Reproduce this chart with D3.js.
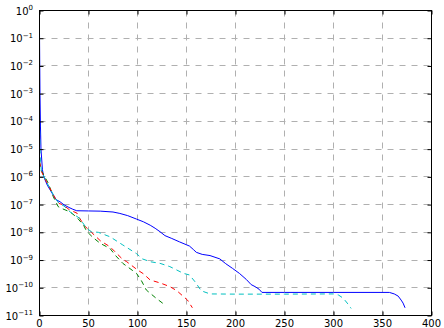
<!DOCTYPE html>
<html>
<head>
<meta charset="utf-8">
<script src="https://cdn.jsdelivr.net/npm/d3@7"></script>
<style>
  html, body { margin: 0; padding: 0; background: #fff; }
  svg { display: block; }
  text { font-family: "DejaVu Sans", sans-serif; fill: #000; }
</style>
</head>
<body>
<svg id="chart" width="444" height="328"></svg>
<script>
// Residual histories (log scale) for four runs
const blueX = [0,0.5,1,1.5,3,4.4,8,14,17,21,25,30,34,38,50,62,75,82,90,99,106,113,118,123,128,135,143,153,157,160,166,174,184,190,197,204,211,216,220,224,227,250,300,357,362,366,369,371,373];
const blueY = [0.158,1e-3,6.3e-5,1e-5,1.8e-6,1e-6,5e-7,2.2e-7,1.5e-7,1.26e-7,9.8e-8,7.9e-8,6.8e-8,6.0e-8,5.9e-8,5.8e-8,5.4e-8,4.8e-8,4.0e-8,3.0e-8,2.4e-8,1.8e-8,1.4e-8,1.05e-8,7.6e-9,6.0e-9,4.5e-9,3.2e-9,2.4e-9,1.9e-9,1.6e-9,1.45e-9,1.1e-9,7.4e-10,5.0e-10,3.3e-10,2.0e-10,1.3e-10,1.1e-10,8.9e-11,6.8e-11,6.8e-11,6.8e-11,6.8e-11,6.0e-11,5.0e-11,3.6e-11,2.8e-11,1.9e-11];

const greenX = [0,2,9,14,19,22,31,38,45,48,55,62,72,78,85,99,104,109,119,128];
const greenY = [3.5e-6,1.66e-6,5.9e-7,1.95e-7,8.5e-8,7.4e-8,5.5e-8,3.5e-8,1.8e-8,1.1e-8,6.3e-9,4.0e-9,2.6e-9,1.4e-9,7.6e-10,3.3e-10,1.8e-10,8.3e-11,4.2e-11,2.4e-11];

const redX = [0,2,7,16,20,24,31,38,41,46,53,62,72,79,85,89,100,106,113,123,133,140,151,156];
const redY = [3.5e-6,1.55e-6,6.8e-7,1.7e-7,1.1e-7,9.8e-8,6.3e-8,5.0e-8,3.2e-8,1.7e-8,1.0e-8,5.0e-9,3.0e-9,1.7e-9,1.05e-9,8.7e-10,4.4e-10,3.2e-10,1.9e-10,1.5e-10,1.1e-10,7.9e-11,3.6e-11,1.9e-11];

const cyanX = [0,0.5,1,2,7,16,20,25,31,41,48,53,60,72,85,99,105,113,123,133,147,153,159,165,174,200,250,300,305,310,314,318];
const cyanY = [1e-4,1e-5,3.5e-6,1.55e-6,6.8e-7,1.7e-7,1.1e-7,8.9e-8,5.5e-8,3.2e-8,1.4e-8,1.05e-8,1.0e-8,6.9e-9,3.5e-9,1.7e-9,1.1e-9,8.7e-10,7.6e-10,5.8e-10,3.3e-10,2.9e-10,1.6e-10,7.8e-11,6.0e-11,5.9e-11,5.9e-11,6.0e-11,5.5e-11,4.2e-11,2.8e-11,1.8e-11];

const xTicks = [0,50,100,150,200,250,300,350,400];
const yExponents = [0,-1,-2,-3,-4,-5,-6,-7,-8,-9,-10,-11];

const series = [
  { xs: blueX,  ys: blueY,  color: "#0000ff", dash: null },
  { xs: greenX, ys: greenY, color: "#008000", dash: "5,4" },
  { xs: redX,   ys: redY,   color: "#ff0000", dash: "5,4" },
  { xs: cyanX,  ys: cyanY,  color: "#00bfbf", dash: "5,4" }
];

const svg = d3.select("#chart");
const plotL = 39.5, plotR = 431.5, plotT = 10.5, plotB = 315.5;

const x = d3.scaleLinear().domain([0, 400]).range([plotL, plotR]);
const y = d3.scaleLog().domain([1e-11, 1]).range([plotB, plotT]);

svg.append("rect").attr("x", 0).attr("y", 0).attr("width", 444).attr("height", 328).attr("fill", "#fff");

// grid
const grid = svg.append("g").attr("stroke", "#b0b0b0").attr("stroke-width", 1).attr("stroke-dasharray", "6,6");
xTicks.forEach(t => {
  const px = Math.round(x(t) - 0.5) + 0.5;
  grid.append("line").attr("x1", px).attr("x2", px).attr("y1", plotT).attr("y2", plotB);
});
yExponents.forEach(e => {
  const py = Math.round(y(Math.pow(10, e)) - 0.5) + 0.5;
  grid.append("line").attr("x1", plotL).attr("x2", plotR).attr("y1", py).attr("y2", py);
});

// data lines
svg.append("clipPath").attr("id", "plotclip").append("rect")
  .attr("x", plotL).attr("y", plotT).attr("width", plotR - plotL).attr("height", plotB - plotT);

const line = d3.line().x(d => x(d[0])).y(d => y(d[1]));
const plot = svg.append("g").attr("clip-path", "url(#plotclip)");
series.forEach(s => {
  const pts = s.xs.map((v, i) => [v, s.ys[i]]);
  plot.append("path").datum(pts)
    .attr("d", line)
    .attr("fill", "none")
    .attr("stroke", s.color)
    .attr("stroke-width", 1)
    .attr("stroke-dasharray", s.dash);
});

// frame
svg.append("rect").attr("x", plotL).attr("y", plotT).attr("width", plotR - plotL).attr("height", plotB - plotT)
  .attr("fill", "none").attr("stroke", "#000").attr("stroke-width", 1);

// inward ticks via d3 axes
const tickLen = 4;
const axB = svg.append("g").attr("transform", `translate(0,${plotB})`)
  .call(d3.axisTop(x).tickValues(xTicks).tickSize(tickLen).tickFormat(""));
const axT = svg.append("g").attr("transform", `translate(0,${plotT})`)
  .call(d3.axisBottom(x).tickValues(xTicks).tickSize(tickLen).tickFormat(""));
const yTickVals = yExponents.map(e => Math.pow(10, e));
const axL = svg.append("g").attr("transform", `translate(${plotL},0)`)
  .call(d3.axisRight(y).tickValues(yTickVals).tickSize(tickLen).tickFormat(""));
const axR = svg.append("g").attr("transform", `translate(${plotR},0)`)
  .call(d3.axisLeft(y).tickValues(yTickVals).tickSize(tickLen).tickFormat(""));
[axB, axT, axL, axR].forEach(a => { a.select(".domain").remove(); a.selectAll("line").attr("stroke", "#000"); });

// x tick labels
xTicks.forEach(t => {
  svg.append("text").attr("x", x(t)).attr("y", 327)
    .attr("text-anchor", "middle").attr("font-size", 10).text(t);
});

// y tick labels: 10 with superscript exponent
yExponents.forEach(e => {
  const py = y(Math.pow(10, e));
  const t = svg.append("text").attr("x", 33).attr("y", py + 4).attr("text-anchor", "end").attr("font-size", 10);
  t.append("tspan").text("10");
  t.append("tspan").attr("dy", -4.5).attr("font-size", 7).text(e < 0 ? "\u2212" + (-e) : String(e));
});
</script>
</body>
</html>
